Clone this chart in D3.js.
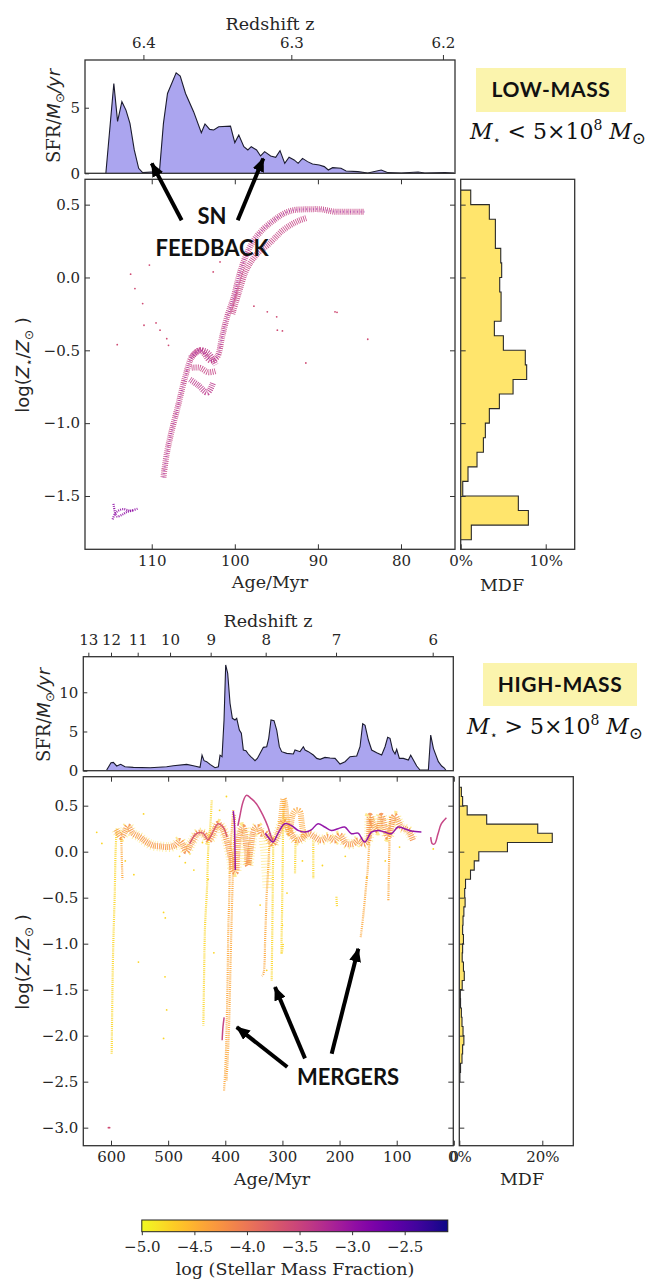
<!DOCTYPE html>
<html>
<head>
<meta charset="utf-8">
<script src="https://cdn.jsdelivr.net/npm/d3@7"></script>
<style>
  body { margin: 0; background: #fff; }
  svg { display: block; }
  .tick text { font-family: "DejaVu Serif"; font-size: 15px; fill: #262626; }
  .tick line { stroke: #333; stroke-width: 1; }
  .lab { font-family: "DejaVu Serif"; font-size: 17.5px; fill: #262626; }
  .note { font-family: "Lato"; font-weight: 700; fill: #111; }
</style>
</head>
<body>
<svg id="fig" width="666" height="1279"></svg>
<script>
// ---------- LOW-MASS data ----------
// star formation history [age Myr, SFR Msun/yr]
const lowSfr = [[115.52,0],[114.56,6.85],[114.11,3.96],[113.59,5.46],[113.10,4.82],[112.62,3.81],[112.10,1.78],[111.57,0.38],[111.09,0.05],[109.07,0.13],[108.59,3.81],[108.10,6.09],[107.06,7.66],[106.57,7.41],[105.93,6.09],[104.96,4.70],[104.03,3.10],[103.59,3.76],[103.02,3.35],[102.54,3.30],[101.94,3.55],[100.52,3.60],[100.0,2.34],[99.52,2.92],[98.91,2.03],[98.43,1.78],[98.02,2.03],[97.38,1.78],[96.90,1.32],[96.41,1.65],[95.69,1.32],[95.08,1.22],[94.56,1.73],[93.99,0.76],[93.47,1.22],[92.86,1.02],[92.38,0.76],[91.85,1.14],[91.25,0.89],[90.65,0.71],[89.84,0.63],[89.23,0.51],[88.75,0.25],[88.23,0.43],[87.22,0.38],[86.61,0.18],[85.20,0.13],[83.99,0.02],[82.38,0.25],[81.57,0.05],[79.96,0.02],[77.94,0.10],[77.14,0.02],[74.72,0.05],[73.6,0.02]];
const lowZTickAges = [111.0, 93.2, 74.95];
const lowZTickLabels = ['6.4', '6.3', '6.2'];
const lowAgeTicks = [110, 100, 90, 80];
const lowSfrTicks = [0, 5];
const lowZTicks = [0.5, 0.0, -0.5, -1.0, -1.5];
// metallicity distribution: bin lower edges (dex, width 0.1) and percentages
const lowMdfEdges = [0.5,0.4,0.3,0.2,0.1,0.0,-0.1,-0.2,-0.3,-0.4,-0.5,-0.6,-0.7,-0.8,-0.9,-1.0,-1.1,-1.2,-1.3,-1.4,-1.5,-1.6,-1.7,-1.8];
const lowMdfPct = [1.18,3.37,4.08,4.08,4.71,4.82,4.59,4.75,4.75,3.96,5.02,7.6,7.76,6.16,4.55,3.37,2.9,2.67,1.92,0.86,0.24,6.78,7.96,1.25];
const lowMdfTicks = [0, 10];
// star particle tracks [age, log Z]
const lowBandMain = [[108.59,-1.372],[108.19,-1.21],[107.58,-1.05],[106.77,-0.867],[105.97,-0.683],[105.16,-0.546],[104.15,-0.5],[102.94,-0.569],[102.14,-0.546],[101.53,-0.408],[100.93,-0.271],[100.12,-0.133],[99.52,0.005],[98.71,0.142],[97.70,0.257],[96.49,0.337],[95.28,0.394],[94.07,0.44],[92.86,0.463],[91.25,0.468],[89.64,0.468],[88.02,0.452],[86.41,0.452],[84.40,0.452]];
const lowBandSide = [[100.3,-0.25],[99.5,-0.1],[98.7,0.04],[97.9,0.12],[97.0,0.18],[96.1,0.22],[95.2,0.27],[94.3,0.32],[93.3,0.36],[92.3,0.39],[91.3,0.41]];
const lowBlobTop = [[105.3,-0.55],[104.2,-0.5],[103.2,-0.52],[102.3,-0.6]];
const lowBlobMid = [[105.2,-0.62],[104.2,-0.62],[103.2,-0.65],[102.2,-0.64]];
const lowBlobLow = [[105.4,-0.7],[104.4,-0.74],[103.3,-0.79],[102.6,-0.72]];
const lowBaseA = [[114.7,-1.66],[114.4,-1.62],[114.0,-1.60],[113.4,-1.59],[112.6,-1.60],[111.6,-1.585]];
const lowBaseB = [[114.6,-1.555],[114.2,-1.64],[113.6,-1.63],[113.0,-1.61],[112.2,-1.60]];
const lowDots = [[112.54,0.023],[110.28,0.085],[112.02,-0.076],[111.09,-0.179],[110.93,-0.328],[109.48,-0.312],[109.0,-0.362],[108.19,-0.42],[107.98,-0.466],[114.15,-0.461],[102.6,0.038],[101.78,0.107],[97.7,-0.197],[96.09,-0.236],[94.88,-0.362],[94.27,-0.367],[87.7,-0.239],[84.0,-0.424],[91.45,-0.587],[94.96,-0.27],[87.94,-0.236]];
const lowBandLmf = -3.45, lowBlobLmf = -3.35, lowBaseLmf = -2.95, lowDotLmf = -3.6;

// ---------- HIGH-MASS data ----------
const hiSfr = [[607.6,0.08],[600,1.02],[595.9,1.06],[590.1,0.6],[583.1,0.81],[575.5,0.51],[560.9,0.43],[531.7,0.38],[502.6,0.51],[490.9,0.64],[467.6,0.81],[455.9,0.64],[444.2,0.43],[440.7,1.98],[437.2,1.28],[432.6,1.15],[426.7,0.81],[418.0,0.38],[412.1,0.51],[409.2,1.98],[405.7,1.79],[402.2,6.47],[399.3,13.49],[395.8,12.43],[391.7,8.6],[387.6,6.68],[383.0,6.47],[380.0,6.68],[375.4,5.19],[371.9,4.77],[368.4,2.64],[363.8,2.55],[359.7,2.13],[355.5,1.79],[352.0,1.57],[348.0,1.28],[343.9,1.57],[333.4,2.98],[327.5,3.06],[324.0,4.13],[320.0,6.47],[314.7,6.38],[310.0,5.19],[305.4,3.06],[301.3,2.43],[292.5,2.21],[280.9,2.13],[278.0,2.64],[269.2,2.43],[263.4,3.06],[260.4,2.64],[254.6,2.43],[245.9,2.0],[240.0,1.57],[234.2,1.45],[225.5,1.70],[216.7,1.62],[207.9,1.57],[199.2,0.85],[190.4,1.15],[181.7,1.79],[170.0,1.87],[164.2,3.06],[159.5,6.0],[155.4,5.79],[149.6,3.91],[143.8,2.64],[135.0,2.30],[126.3,2.0],[120.4,3.06],[115.8,4.26],[111.7,4.13],[107.0,2.64],[102.9,2.13],[100.0,2.72],[95.3,1.57],[88.3,1.57],[79.6,1.36],[75.5,1.98],[70.8,1.36],[65.0,0.6],[59.2,0.09],[44.6,0.09],[40.5,4.55],[35.8,2.85],[27.1,1.15],[21.3,0.6],[16.6,0.34],[14.0,0.05]];
const hiZTickAges = [639.7, 600, 553.3, 496.7, 425.6, 329.3, 206.2, 37.0];
const hiZTickLabels = ['13', '12', '11', '10', '9', '8', '7', '6'];
const hiAgeTicks = [600, 500, 400, 300, 200, 100, 0];
const hiSfrTicks = [0, 5, 10];
const hiZTicks = [0.5, 0.0, -0.5, -1.0, -1.5, -2.0, -2.5, -3.0];
const hiMdfEdges = [0.6,0.5,0.4,0.3,0.2,0.1,0.0,-0.1,-0.2,-0.3,-0.4,-0.5,-0.6,-0.7,-0.8,-0.9,-1.0,-1.1,-1.2,-1.3,-1.4,-1.5,-1.6,-1.7,-1.8,-1.9,-2.0,-2.1,-2.2,-2.3,-2.4,-2.5];
const hiMdfPct = [0.5,0.8,1.9,6.6,18.9,22.4,11.6,4.7,3.6,2.7,1.5,1.3,1.4,1.1,0.9,0.8,1.0,0.8,0.7,1.0,1.2,0.7,0.25,0.3,0.5,0.65,0.9,1.1,0.8,0.65,0.3,0.15];
const hiMdfTicks = [0, 20];
const hiBand = [[590.7,0.238],[581.9,0.159],[576.1,0.213],[570.2,0.275],[561.5,0.2],[549.8,0.159],[538.2,0.105],[526.5,0.068],[514.8,0.058],[500.2,0.05],[488.6,0.068],[479.8,0.116],[474,0.068],[468.1,0.003],[459.4,0.094],[447.7,0.202],[437.8,0.195],[428.5,0.123],[421.5,0.195],[412.7,0.304],[406.9,0.268],[401.1,0.195],[395.2,0.069],[389.4,-0.094],[386.5,-0.203],[381.8,-0.221],[379.5,-0.058],[374.8,0.195],[369,0.268],[363.1,0.05],[360.2,-0.15],[356.1,0.014],[348.5,0.25],[342.7,0.268],[336.9,0.195],[331,0.202],[322.3,0.123],[316.5,0.086],[307.7,0.195],[298.9,0.322],[294,0.3],[284.4,0.195],[275.6,0.123],[266.9,0.14],[255.2,0.195],[243.5,0.159],[231.9,0.123],[220.2,0.159],[208.5,0.123],[199.8,0.177],[188.1,0.086],[176.4,0.086],[167.7,0.123],[158.9,0.086],[150.2,0.123],[146.8,0.39],[141.4,0.304],[132.7,0.231],[126.8,0.39],[115.2,0.159],[103.5,0.39],[91.8,0.268],[80.2,0.231],[71.4,0.123]];
const hiBumps = [[303,0.3],[300,0.5],[298,0.576],[295,0.5],[292,0.3],[288,0.2],[282,0.4],[276,0.45],[270,0.44],[266,0.3],[262,0.15]];
const hiDip1 = [[590,0.25],[592,0.0],[593.5,-0.46],[596,-1.0],[597.5,-1.5],[598.8,-2.2]];
const hiDip1b = [[582,0.16],[581,-0.1],[580,-0.3]];
const hiDip2 = [[423.8,0.557],[426,0.3],[429.6,0.05],[432,-0.4],[435.5,-0.82],[437,-1.3],[438.4,-1.89]];
const hiDip3 = [[386,0.45],[389,0.2],[391.7,-0.094],[393,-0.5],[394.6,-0.82],[396,-1.4],[397.6,-1.9],[399.5,-2.3],[402.2,-2.6]];
const hiDip3b = [[383,0.4],[386.5,-0.2],[390,-1.0],[394,-2.0],[398,-2.5]];
const hiDip4 = [[316,0.16],[317,-0.46],[318.8,-1.4]];
const hiDip4b = [[322,0.2],[325,-0.2],[327.5,-0.46],[330,-0.9],[333.4,-1.33],[336,-1.35]];
const hiDip5 = [[298.4,0.55],[299.5,-0.094],[300.5,-0.6],[301.3,-1.11],[299,-1.0]];
const hiDip6 = [[146.7,0.376],[149.6,-0.094],[154,-0.4],[158.3,-0.68],[163,-0.93]];
const hiDip7 = [[111.7,0.376],[113,0.0],[114.6,-0.53]];
const hiDip8 = [[246,0.12],[246,-0.06],[245.9,-0.295]];
const hiDip9 = [[277,0.15],[278,-0.24]];
const hiDip10 = [[205.5,-0.49],[204.5,-0.6]];
const hiCloud = [[333,0.15],[330,0.0],[328,-0.2],[326,-0.4]];
const hiMagenta = [[378,0.28],[374.8,0.376],[369,0.54],[363.1,0.612],[354.4,0.576],[345.6,0.521],[334,0.394],[325.2,0.268],[319.4,0.159],[316.5,0.123]];
const hiPurple = [[330,0.2],[325.2,0.159],[316.4,0.104],[307.7,0.2],[296,0.304],[284.4,0.285],[272.7,0.231],[261,0.213],[249.4,0.238],[237.7,0.304],[226,0.268],[214.4,0.231],[202.7,0.25],[191,0.268],[179.3,0.195],[167.7,0.202],[156,0.104],[144.3,0.213],[132.7,0.231],[121,0.213],[109.3,0.195],[97.7,0.268],[86,0.25],[74.3,0.224],[56.8,0.213]];
const hiPinkLeft = [[462.3,0.086],[450.6,0.195],[439,0.202],[430.2,0.13],[420.3,0.231],[412.7,0.304],[404,0.268],[397,0.159]];
const hiPurpleSpike = [[386,0.44],[384,0.3],[383,0.0],[382.5,-0.2]];
const hiMergerTail = [[405.5,-2.05],[404,-1.9],[402,-1.8]];
const hiTail = [[40.5,0.159],[37.6,0.086],[33.5,0.086],[27.7,0.195],[21.8,0.304],[13,0.369]];
const hiDots = [[625,0.21],[616,0.09],[543,0.41],[508,-0.66],[505,-0.72],[552,-1.2],[505.5,-1.36],[502.6,-1.72],[508,-2.03],[339,-0.58],[327.5,-1.29],[152.5,-0.28],[36,0.03],[480,-0.05],[470,-0.12],[455,-0.2],[560,-0.25],[575,-0.1],[430,-0.3],[420,-1.1],[410,0.45],[300,-0.8],[265,-0.1],[230,-0.15],[190,-0.05],[120,-0.1],[95,0.05],[440,0.1],[398,0.6],[292,-0.45]];
const hiPinkDots = [[602.5,-3.0],[604.5,-3.0]];
const hiBandLmf = -4.2, hiDipLmf = -4.4, hiYellowLmf = -4.75, hiMagentaLmf = -3.45, hiPurpleLmf = -2.95;

// colour bar
const cbTicks = [-5.0, -4.5, -4.0, -3.5, -3.0, -2.5];
const cbDomain = [-5.0, -2.09];

// ---------- drawing ----------
const svg = d3.select('#fig');
const cmap = d3.scaleSequential(t => d3.interpolatePlasma(1 - t)).domain(cbDomain);
const fmt1 = d3.format('.1f');
const noLabel = () => '';

function frame(x0, x1, y0, y1) {
    svg.append('rect')
        .attr('x', x0).attr('y', y0)
        .attr('width', x1 - x0).attr('height', y1 - y0)
        .attr('fill', 'none').attr('stroke', '#333').attr('stroke-width', 1.3);
}

function ax(gen, tx, ty) {
    const g = svg.append('g').attr('transform', `translate(${tx},${ty})`).call(gen);
    g.select('.domain').remove();
    return g;
}

function sfrPanel(x, y, data, ticks, zAges, zLabels, zTick, zPad) {
    const [x0, x1] = x.range(), [y1, y0] = y.range();
    svg.append('path')
        .datum(data)
        .attr('d', d3.area().x(d => x(d[0])).y0(y(0)).y1(d => y(d[1])))
        .attr('fill', '#aba5ef');
    svg.append('path')
        .datum(data)
        .attr('d', d3.line().x(d => x(d[0])).y(d => y(d[1])))
        .attr('fill', 'none').attr('stroke', '#1b1b2e').attr('stroke-width', 1.1);
    frame(x0, x1, y0, y1);
    ax(d3.axisLeft(y).tickValues(ticks).tickSize(-4).tickPadding(5), x0, 0);
    ax(d3.axisTop(x).tickValues(zAges).tickSize(zTick).tickPadding(zPad)
        .tickFormat((d, i) => zLabels[i]), 0, y0);
}

function mainPanel(x, y, ageTicks, zTicks) {
    const [x0, x1] = x.range(), [y0, y1] = y.range();
    frame(x0, x1, y0, y1);
    ax(d3.axisLeft(y).tickValues(zTicks).tickSize(-5).tickPadding(5).tickFormat(fmt1), x0, 0);
    ax(d3.axisRight(y).tickValues(zTicks).tickSize(-5).tickFormat(noLabel), x1, 0);
    ax(d3.axisTop(x).tickValues(ageTicks).tickSize(-5).tickFormat(noLabel), 0, y0);
    ax(d3.axisBottom(x).tickValues(ageTicks).tickSize(-5).tickPadding(6), 0, y1);
}

function mdfPanel(mx, y, edges, pct, ticks, zTicks) {
    const [x0, x1] = mx.range(), [y0, y1] = y.range();
    const pts = [[0, edges[0] + 0.1]];
    edges.forEach((lo, i) => { pts.push([pct[i], lo + 0.1]); pts.push([pct[i], lo]); });
    pts.push([0, edges[edges.length - 1]]);
    svg.append('path')
        .attr('d', d3.line().x(d => mx(d[0])).y(d => y(d[1]))(pts))
        .attr('fill', '#ffe464').attr('fill-opacity', 0.95)
        .attr('stroke', '#2a2a2a').attr('stroke-width', 1.1);
    frame(x0, x1, y0, y1);
    ax(d3.axisLeft(y).tickValues(zTicks).tickSize(-5).tickFormat(noLabel), x0, 0);
    ax(d3.axisBottom(mx).tickValues(ticks).tickSize(-5).tickPadding(6).tickFormat(d => d + '%'), 0, y1);
}

// track styles: dense bands of star particles, thin dips, continuous lines
const styles = {
    band: { w: 6, dash: '0.9 1.1', op: 0.85 },
    fuzz: { w: 10, dash: '0.7 2.2', op: 0.5 },
    dip: { w: 2.2, dash: '1 1.1', op: 0.9 },
    grain: { w: 2, dash: '0.8 2.6', op: 0.6 },
    line: { w: 1.5, dash: null, op: 0.95 }
};

function track(x, y, pts, lmf, kind) {
    const s = styles[kind];
    svg.append('path')
        .datum(pts)
        .attr('d', d3.line().x(d => x(d[0])).y(d => y(d[1])).curve(d3.curveCatmullRom))
        .attr('fill', 'none')
        .attr('stroke', cmap(lmf))
        .attr('stroke-width', s.w)
        .attr('stroke-dasharray', s.dash)
        .attr('stroke-opacity', s.op);
}

function dots(x, y, pts, lmf) {
    svg.append('g').selectAll('circle')
        .data(pts).join('circle')
        .attr('cx', d => x(d[0])).attr('cy', d => y(d[1]))
        .attr('r', 0.9).attr('fill', cmap(lmf));
}

// arrow marker
svg.append('defs').append('marker')
    .attr('id', 'head').attr('markerUnits', 'userSpaceOnUse')
    .attr('markerWidth', 14).attr('markerHeight', 12)
    .attr('refX', 13).attr('refY', 6).attr('orient', 'auto')
    .append('path').attr('d', 'M0,0 L14,6 L0,12 Z').attr('fill', '#000');

function arrow(x, y, from, to) {
    svg.append('line')
        .attr('x1', x(from[0])).attr('y1', y(from[1]))
        .attr('x2', x(to[0])).attr('y2', y(to[1]))
        .attr('stroke', '#000').attr('stroke-width', 4)
        .attr('marker-end', 'url(#head)');
}

function yLabel(tx, ty, parts) {
    const t = svg.append('text')
        .attr('transform', `translate(${tx},${ty}) rotate(-90)`)
        .attr('text-anchor', 'middle')
        .attr('fill', '#262626').attr('font-size', 18);
    parts.forEach(p => {
        t.append('tspan')
            .attr('font-family', p.f).attr('font-style', p.i ? 'italic' : 'normal')
            .attr('font-size', p.s || null).attr('dy', p.dy || 0)
            .text(p.t);
    });
}

function massLabel(cx, by, bx0, bx1, by0, by1, title, rel, mx, my) {
    svg.append('rect').attr('x', bx0).attr('y', by0)
        .attr('width', bx1 - bx0).attr('height', by1 - by0).attr('fill', '#fbf4ad');
    svg.append('text').attr('class', 'note').attr('x', cx).attr('y', by)
        .attr('text-anchor', 'middle').attr('font-size', 21).attr('letter-spacing', 0.6)
        .text(title);
    const t = svg.append('text').attr('x', mx).attr('y', my)
        .attr('font-family', 'DejaVu Serif').attr('font-size', 22).attr('fill', '#111');
    t.append('tspan').attr('font-style', 'italic').text('M');
    t.append('tspan').attr('font-size', 12).attr('dy', 5).text('\u22C6');
    t.append('tspan').attr('dy', -5).text(` ${rel} 5\u00D710`);
    t.append('tspan').attr('font-size', 14).attr('dy', -9).text('8');
    t.append('tspan').attr('dy', 9).attr('font-style', 'italic').text(' M');
    t.append('tspan').attr('font-size', 17).attr('dy', 5).text('\u2299');
}

// ======== LOW-MASS ========
const lx = d3.scaleLinear().domain([118.03, 73.5]).range([85, 455]);
const lyS = d3.scaleLinear().domain([0, 8.64]).range([173.3, 60]);
const lyZ = d3.scaleLinear().domain([0.674, -1.866]).range([179.3, 549.3]);
const lmx = d3.scaleLinear().domain([0, 13.41]).range([460.7, 574.7]);

sfrPanel(lx, lyS, lowSfr, lowSfrTicks, lowZTickAges, lowZTickLabels, 5, 7);
track(lx, lyZ, lowBandMain, lowBandLmf, 'band');
track(lx, lyZ, lowBandSide, lowBandLmf, 'band');
track(lx, lyZ, lowBlobTop, lowBlobLmf, 'band');
track(lx, lyZ, lowBlobMid, lowBandLmf, 'band');
track(lx, lyZ, lowBlobLow, lowBlobLmf, 'band');
track(lx, lyZ, lowBandMain, lowBaseLmf, 'grain');
track(lx, lyZ, lowBaseA, lowBaseLmf, 'dip');
track(lx, lyZ, lowBaseB, lowBaseLmf, 'dip');
dots(lx, lyZ, lowDots, lowDotLmf);
mainPanel(lx, lyZ, lowAgeTicks, lowZTicks);
mdfPanel(lmx, lyZ, lowMdfEdges, lowMdfPct, lowMdfTicks, lowZTicks);

svg.append('text').attr('class', 'lab').attr('x', 270).attr('y', 30).attr('text-anchor', 'middle').text('Redshift z');
svg.append('text').attr('class', 'lab').attr('x', 270).attr('y', 588).attr('text-anchor', 'middle').text('Age/Myr');
svg.append('text').attr('class', 'lab').attr('x', 502).attr('y', 591).attr('text-anchor', 'middle').text('MDF');
yLabel(60, 116, [
    { t: 'SFR/', f: 'DejaVu Serif' }, { t: 'M', f: 'DejaVu Sans', i: true },
    { t: '\u2299', f: 'DejaVu Sans', s: 12, dy: 4 }, { t: '/yr', f: 'DejaVu Sans', i: true, dy: -4 }]);
yLabel(29, 365, [
    { t: 'log(', f: 'DejaVu Sans' }, { t: 'Z', f: 'DejaVu Sans', i: true },
    { t: '\u22C6', f: 'DejaVu Sans', s: 12, dy: 4 }, { t: '/', f: 'DejaVu Sans', dy: -4 },
    { t: 'Z', f: 'DejaVu Sans', i: true }, { t: '\u2299', f: 'DejaVu Sans', s: 12, dy: 4 },
    { t: ' )', f: 'DejaVu Sans', dy: -4 }]);

arrow(lx, lyZ, [106.4, 0.393], [110.0, 0.783]);
arrow(lx, lyZ, [99.65, 0.393], [96.57, 0.817]);
svg.append('text').attr('class', 'note').attr('font-size', 22)
    .attr('x', lx(102.74)).attr('y', lyZ(0.366)).attr('text-anchor', 'middle').text('SN');
svg.append('text').attr('class', 'note').attr('font-size', 22)
    .attr('x', lx(102.74)).attr('y', lyZ(0.148)).attr('text-anchor', 'middle').text('FEEDBACK');
massLabel(551, 97, 476, 626, 68, 112, 'LOW-MASS', '<', 470, 139);

// ======== HIGH-MASS ========
const hx = d3.scaleLinear().domain([648.5, 0.95]).range([83.3, 453.3]);
const hyS = d3.scaleLinear().domain([0, 14.54]).range([770.7, 656.7]);
const hyZ = d3.scaleLinear().domain([0.815, -3.196]).range([776.7, 1145.7]);
const hmx = d3.scaleLinear().domain([0, 27.47]).range([459.3, 573.3]);

sfrPanel(hx, hyS, hiSfr, hiSfrTicks, hiZTickAges, hiZTickLabels, 4, 8);
dots(hx, hyZ, hiDots, hiYellowLmf);
dots(hx, hyZ, hiPinkDots, -3.6);
track(hx, hyZ, hiCloud, hiYellowLmf, 'fuzz');
track(hx, hyZ, hiBand, hiYellowLmf, 'fuzz');
[hiDip1, hiDip2, hiDip4, hiDip5, hiDip8, hiDip9, hiDip10].forEach(p => track(hx, hyZ, p, hiYellowLmf, 'dip'));
[hiDip1b, hiDip3, hiDip3b, hiDip4b, hiDip6, hiDip7].forEach(p => track(hx, hyZ, p, hiDipLmf, 'dip'));
track(hx, hyZ, hiBand, hiBandLmf, 'band');
track(hx, hyZ, hiBumps, hiDipLmf, 'band');
track(hx, hyZ, hiPinkLeft, -3.7, 'line');
track(hx, hyZ, hiMagenta, hiMagentaLmf, 'line');
track(hx, hyZ, hiPurple, hiPurpleLmf, 'line');
track(hx, hyZ, hiPurpleSpike, hiPurpleLmf, 'line');
track(hx, hyZ, hiMergerTail, hiMagentaLmf, 'line');
track(hx, hyZ, hiTail, hiMagentaLmf, 'line');
mainPanel(hx, hyZ, hiAgeTicks, hiZTicks);
mdfPanel(hmx, hyZ, hiMdfEdges, hiMdfPct, hiMdfTicks, hiZTicks);

svg.append('text').attr('class', 'lab').attr('x', 268).attr('y', 627).attr('text-anchor', 'middle').text('Redshift z');
svg.append('text').attr('class', 'lab').attr('x', 272).attr('y', 1185).attr('text-anchor', 'middle').text('Age/Myr');
svg.append('text').attr('class', 'lab').attr('x', 522).attr('y', 1185).attr('text-anchor', 'middle').text('MDF');
yLabel(50, 715, [
    { t: 'SFR/', f: 'DejaVu Serif' }, { t: 'M', f: 'DejaVu Sans', i: true },
    { t: '\u2299', f: 'DejaVu Sans', s: 12, dy: 4 }, { t: '/yr', f: 'DejaVu Sans', i: true, dy: -4 }]);
yLabel(29, 962, [
    { t: 'log(', f: 'DejaVu Sans' }, { t: 'Z', f: 'DejaVu Sans', i: true },
    { t: '\u22C6', f: 'DejaVu Sans', s: 12, dy: 4 }, { t: '/', f: 'DejaVu Sans', dy: -4 },
    { t: 'Z', f: 'DejaVu Sans', i: true }, { t: '\u2299', f: 'DejaVu Sans', s: 12, dy: 4 },
    { t: ' )', f: 'DejaVu Sans', dy: -4 }]);

arrow(hx, hyZ, [291.5, -2.341], [380, -1.907]);
arrow(hx, hyZ, [260.5, -2.247], [313, -1.472]);
arrow(hx, hyZ, [213.8, -2.196], [167.2, -1.054]);
svg.append('text').attr('class', 'note').attr('font-size', 22)
    .attr('x', hx(185.2)).attr('y', hyZ(-2.54)).attr('text-anchor', 'middle').text('MERGERS');
massLabel(560, 692, 483, 637, 663, 706, 'HIGH-MASS', '>', 467, 734);

// ======== colour bar ========
const cbx = d3.scaleLinear().domain(cbDomain).range([141.8, 447.8]);
const grad = svg.select('defs').append('linearGradient').attr('id', 'cbgrad');
d3.range(0, 1.0001, 0.05).forEach(t => {
    grad.append('stop').attr('offset', t).attr('stop-color', cmap(cbDomain[0] + t * (cbDomain[1] - cbDomain[0])));
});
svg.append('rect').attr('x', 141.8).attr('y', 1220).attr('width', 306).attr('height', 11.7)
    .attr('fill', 'url(#cbgrad)').attr('stroke', '#222').attr('stroke-width', 1);
ax(d3.axisBottom(cbx).tickValues(cbTicks).tickSize(3.5).tickPadding(6).tickFormat(fmt1), 0, 1231.7);
svg.append('text').attr('class', 'lab').attr('x', 295).attr('y', 1275).attr('text-anchor', 'middle')
    .text('log (Stellar Mass Fraction)');
</script>
</body>
</html>
